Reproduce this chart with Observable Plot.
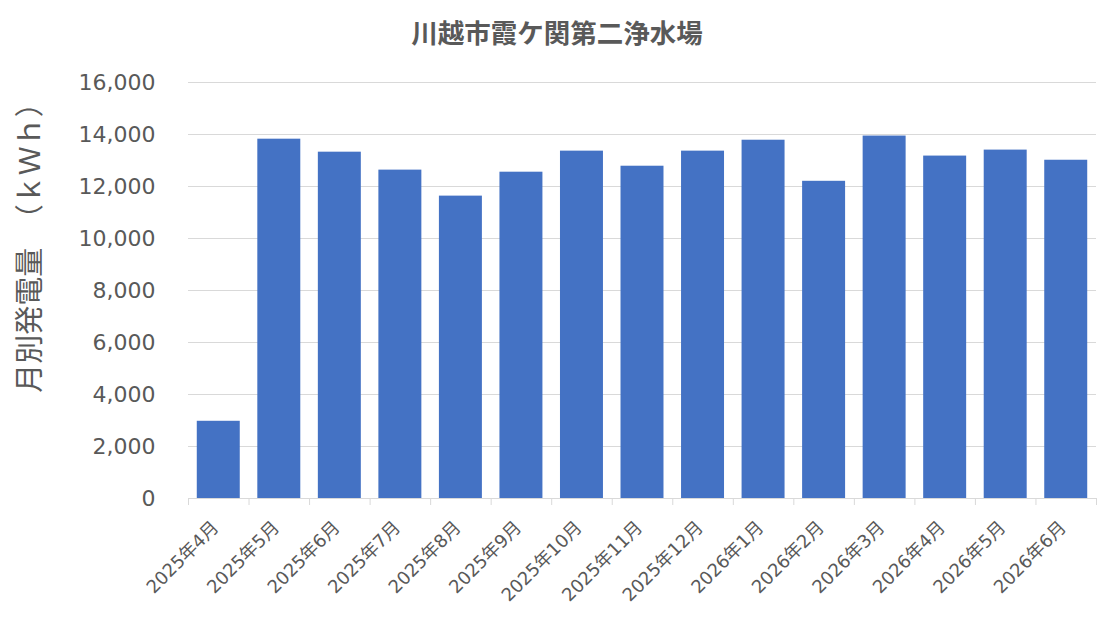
<!DOCTYPE html>
<html><head><meta charset="utf-8">
<script src="https://cdn.jsdelivr.net/npm/d3@7"></script>
<script src="https://cdn.jsdelivr.net/npm/@observablehq/plot@0.6"></script>
<style>
body{margin:0;background:#fff;}
#title{height:60px;box-sizing:border-box;padding-top:15px;text-align:center;font:bold 26.5px "Noto Sans CJK JP",sans-serif;color:#595959;line-height:34px;width:1114px;}
</style></head>
<body>
<div id="title">川越市霞ケ関第二浄水場</div>
<div id="chart"></div>
<script>
const months = ["2025年4月","2025年5月","2025年6月","2025年7月","2025年8月","2025年9月","2025年10月","2025年11月","2025年12月","2026年1月","2026年2月","2026年3月","2026年4月","2026年5月","2026年6月"];
const kwh = [2970,13820,13320,12630,11630,12550,13360,12780,13360,13780,12200,13940,13170,13400,13010];
const yTicks = [0,2000,4000,6000,8000,10000,12000,14000,16000];
const yLabel = "月別発電量　（ｋＷｈ）";

const data = months.map((m,i)=>({month:m, value:kwh[i]}));
const W = 1114, mL = 188, mR = 18;
const step = (W - mL - mR) / months.length;
const grey = "#595959";

const chart = Plot.plot({
  width: W, height: 558,
  marginLeft: mL, marginRight: mR, marginTop: 22, marginBottom: 120,
  style: {fontFamily: "'DejaVu Sans','Noto Sans CJK JP',sans-serif", color: grey, background: "#fff"},
  x: {domain: months, paddingInner: 0.29, paddingOuter: 0.145, round: false, label: null},
  y: {domain: [0,16000], label: null},
  marks: [
    Plot.gridY(yTicks, {stroke: "#d9d9d9", strokeOpacity: 1}),
    Plot.barY(data, {x: "month", y: "value", fill: "#4472C4"}),
    Plot.ruleY([0], {stroke: "#d9d9d9", strokeOpacity: 1}),
    Plot.axisX({tickSize: 7, text: null, dx: -step/2, stroke: "#d9d9d9"}),
    Plot.axisX({ticks: [months[months.length-1]], tickSize: 7, text: null, dx: step/2, stroke: "#d9d9d9"}),
    Plot.axisX({tickSize: 0, tickPadding: 26, tickRotate: -45, fontSize: 18, fill: grey, label: null, dx: -3}),
    Plot.axisY({ticks: yTicks, tickSize: 0, tickPadding: 33, tickFormat: d3.format(","), fontSize: 22, fill: grey, label: null}),
    Plot.text([yLabel], {frameAnchor: "left", textAnchor: "middle", rotate: -90, dx: -158, dy: -50, fontSize: 29, fill: grey, fontFamily: "'Noto Sans CJK JP',sans-serif"})
  ]
});
document.getElementById("chart").appendChild(chart);
</script>
</body></html>
